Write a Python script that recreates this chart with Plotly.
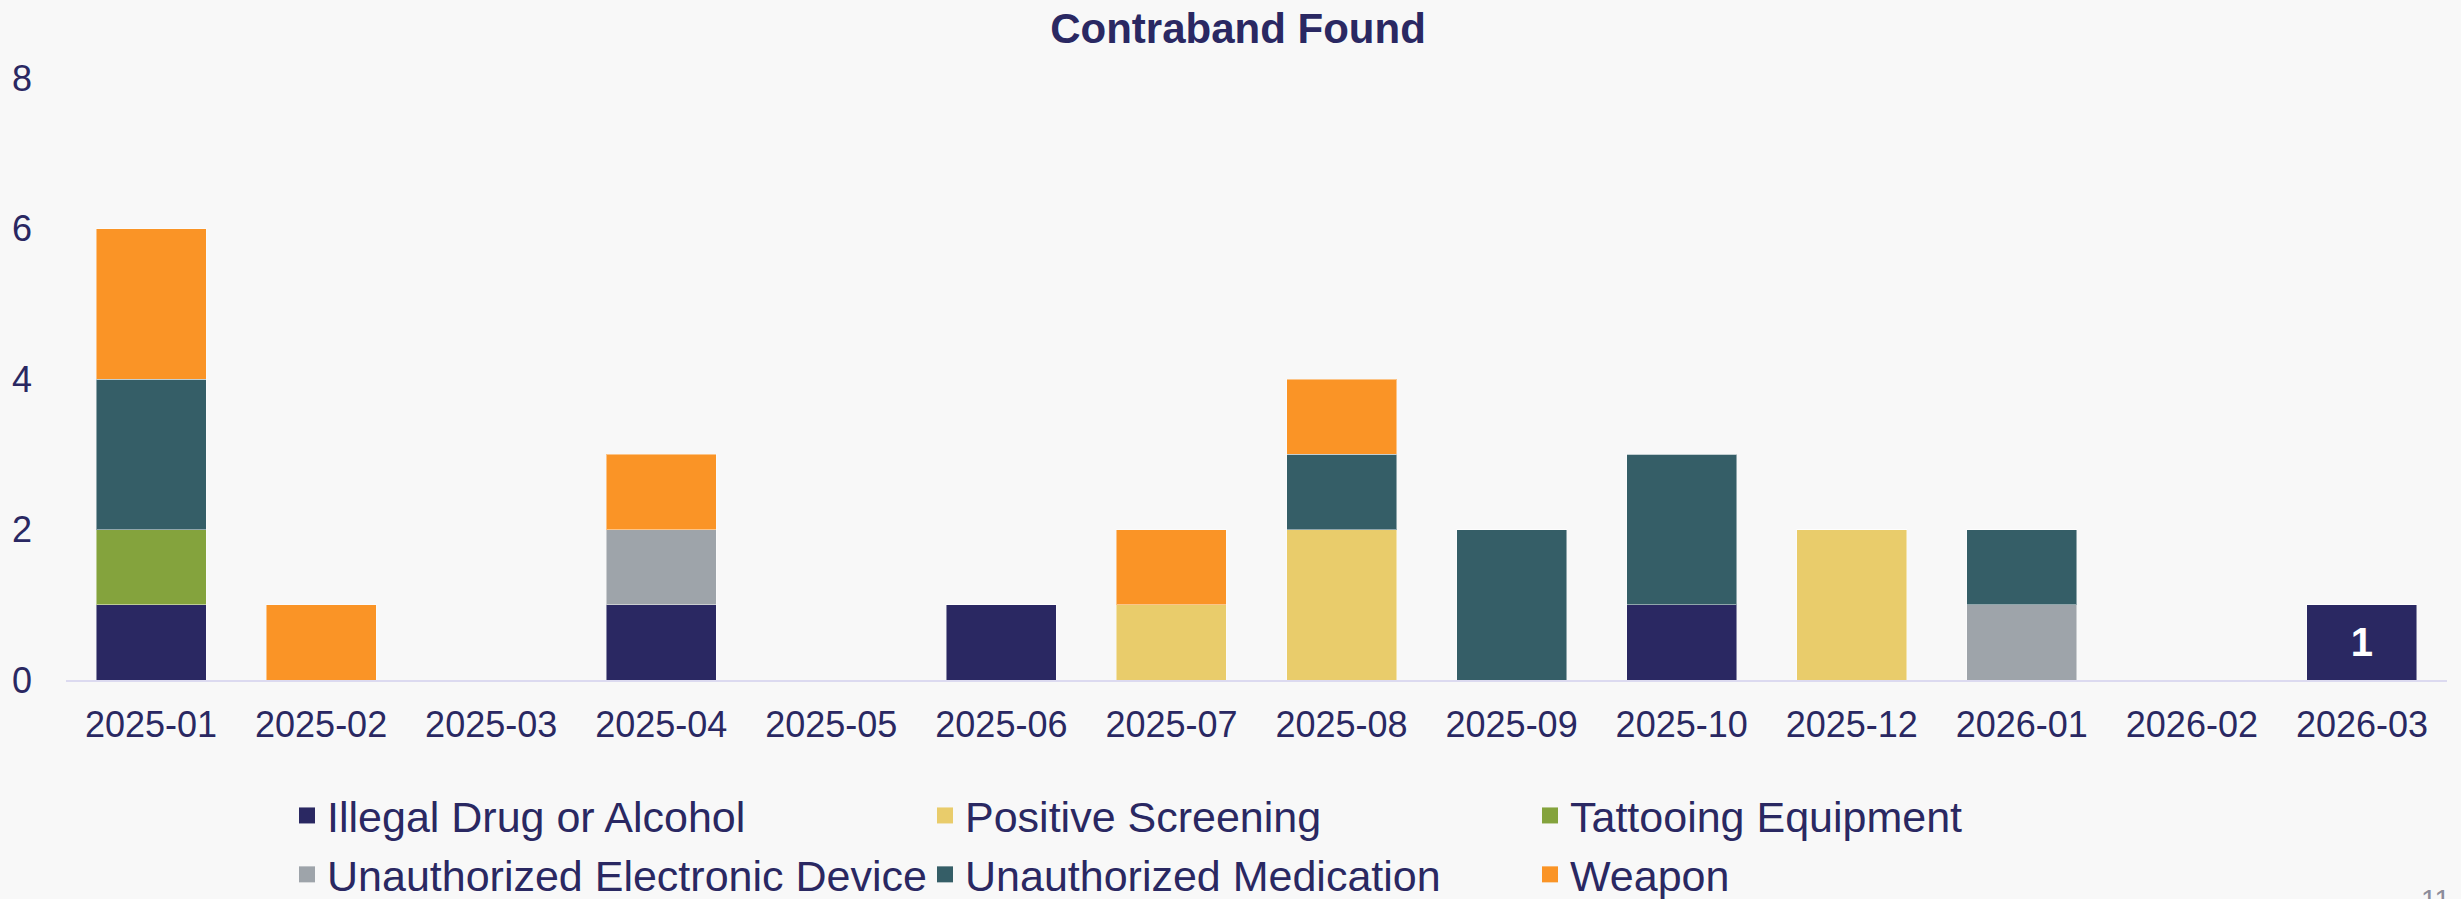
"""Contraband found per month, stacked by category."""
import plotly.graph_objects as go

NAVY, BG, AXIS = "#2A2862", "#F8F8F8", "#DCDAF0"
FONT = dict(family="Liberation Sans, Arial, sans-serif", color=NAVY)

months = ["2025-01", "2025-02", "2025-03", "2025-04", "2025-05", "2025-06", "2025-07",
          "2025-08", "2025-09", "2025-10", "2025-12", "2026-01", "2026-02", "2026-03"]
illegal_drug = [1, 0, 0, 1, 0, 1, 0, 0, 0, 1, 0, 0, 0, 1]
positive_screening = [0, 0, 0, 0, 0, 0, 1, 2, 0, 0, 2, 0, 0, 0]
tattooing = [1, 0, 0, 0, 0, 0, 0, 0, 0, 0, 0, 0, 0, 0]
electronic_device = [0, 0, 0, 1, 0, 0, 0, 0, 0, 0, 0, 1, 0, 0]
medication = [2, 0, 0, 0, 0, 0, 0, 1, 2, 2, 0, 1, 0, 0]
weapon = [2, 1, 0, 1, 0, 0, 1, 1, 0, 0, 0, 0, 0, 0]

series = [
    ("Illegal Drug or Alcohol", illegal_drug, "#2A2862", "legend"),
    ("Positive Screening", positive_screening, "#E9CC6B", "legend2"),
    ("Tattooing Equipment", tattooing, "#84A33D", "legend3"),
    ("Unauthorized Electronic Device", electronic_device, "#9EA4AA", "legend"),
    ("Unauthorized Medication", medication, "#355E67", "legend2"),
    ("Weapon", weapon, "#FA9426", "legend3"),
]

# only the last month carries a data label
drug_labels = ["" for _ in months]
drug_labels[-1] = str(illegal_drug[-1])

fig = go.Figure()
for name, vals, color, leg in series:
    fig.add_trace(go.Bar(
        x=months, y=vals, name=name, marker_color=color, showlegend=False,
        marker_line=dict(color="rgba(255,255,255,0.45)", width=1),
        text=drug_labels if name == "Illegal Drug or Alcohol" else None,
        textposition="inside", insidetextanchor="middle",
        textfont=dict(color="white", size=40, weight="bold"),
        hovertemplate="%{x}<br>" + name + ": %{y}<extra></extra>"))
    # legend proxy with a bigger square swatch
    fig.add_trace(go.Scatter(
        x=[None], y=[None], mode="markers", name=name, legend=leg,
        marker=dict(symbol="square", size=16, color=color)))

leg = dict(orientation="v", yref="container", yanchor="top", y=1 - 781 / 899,
           xanchor="left", bgcolor="rgba(0,0,0,0)", traceorder="normal",
           tracegroupgap=0, font=dict(size=43, color=NAVY), itemsizing="trace")

fig.update_layout(
    width=2461, height=899, barmode="stack", bargap=0.353,
    font=FONT, paper_bgcolor=BG, plot_bgcolor=BG,
    margin=dict(l=66, r=14, t=78, b=219, autoexpand=False),
    title=dict(text="<b>Contraband Found</b>", x=1238 / 2461, xanchor="center",
               y=1 - 28 / 899, yanchor="middle", font=dict(size=42, color=NAVY)),
    legend=dict(leg, x=(287 - 66) / 2381),
    legend2=dict(leg, x=(925 - 66) / 2381),
    legend3=dict(leg, x=(1530 - 66) / 2381),
    annotations=[dict(text="11", xref="paper", yref="paper", x=0.995, y=-0.3355,
                      xanchor="center", yanchor="top", showarrow=False,
                      font=dict(size=28, color="#8C8C9A"))],
)
fig.update_xaxes(type="category", showline=True, linecolor=AXIS, linewidth=2,
                 showgrid=False, zeroline=False, ticks="", automargin=False,
                 tickfont=dict(size=36, color=NAVY), ticklabelstandoff=12)
fig.update_yaxes(range=[0, 8], dtick=2, showgrid=False, zeroline=False, ticks="",
                 automargin=False, tickfont=dict(size=36, color=NAVY),
                 ticklabelstandoff=33)

# drop the default page margin so the figure sits flush in the window
fig.write_html("out.html", config={"displayModeBar": False},
               post_script="document.body.style.margin='0';"
               "document.body.style.background='" + BG + "';")
